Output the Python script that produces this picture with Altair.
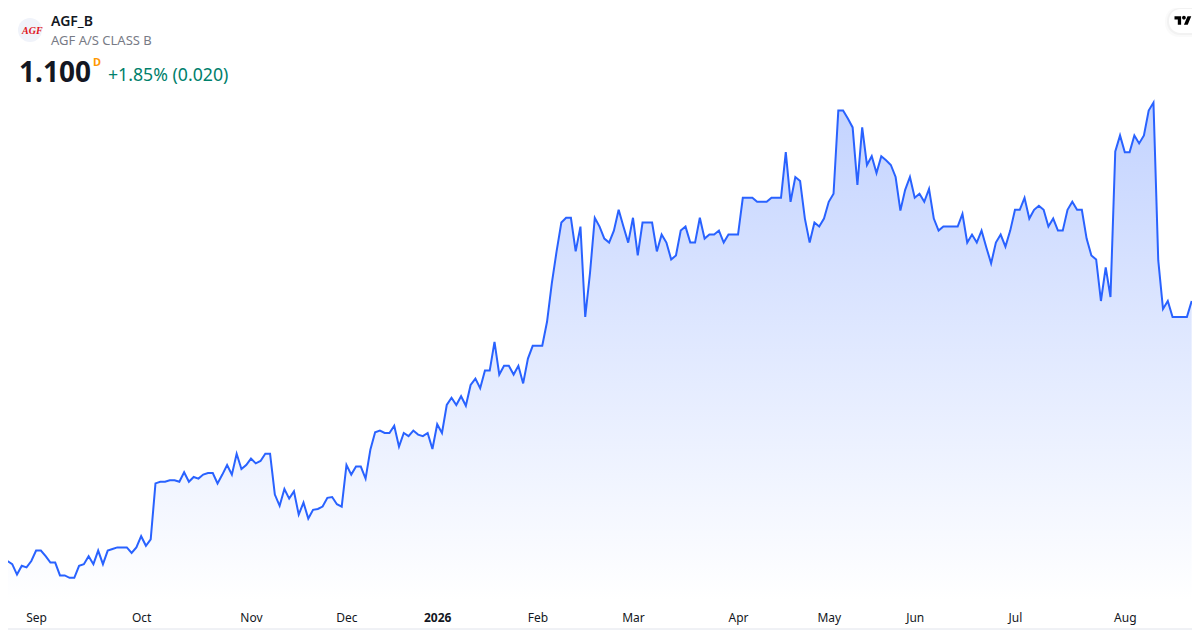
import altair as alt
import pandas as pd

# Daily closes, month by month
prices_a = [.764,.775,.771,.758,.769,.767,.775,.788,.788,.781,.773,.773,.757,.757,.754,.754,
            .769,.771,.781,.771,.788,.771,.788,.790,.792,.792,.792,.785,.792,.806,.794,.802,
            .872,.874,.874,.876,.876,.874,.886,.874,.880,.878,.883,.885,.885,.872,.883,.895,
            .883,.909,.890,.895,.903,.897,.900,.909,.909,.858,.844,.865,.853,.862,.833]
prices_b = [.848,.828,.839,.840,.843,.854,.855,.846,.843,.895,.883,.893,.893,.878,.914,.936,
            .938,.935,.935,.944,.918,.935,.931,.938,.933,.931,.935,.915,.946,.935,.970,.979,
            .970,.981,.969,.995,1.003,.991,1.013,1.013,1.049,1.008,1.019,1.019,1.008,1.019,
            .997,1.028,1.044,1.044,1.044,1.074]
prices_c = [1.122,1.162,1.198,1.204,1.204,1.162,1.193,1.080,1.135,1.204,1.193,1.178,1.173,
            1.188,1.214,1.193,1.173,1.204,1.157,1.198,1.198,1.198,1.162,1.183,1.173,1.152,
            1.157,1.188,1.193,1.173,1.173,1.204,1.178,1.183,1.183,1.188,1.173,1.183,1.183,
            1.183,1.229,1.229,1.229,1.224,1.224,1.224,1.229,1.229,1.229,1.286]
prices_d = [1.224,1.255,1.250,1.203,1.173,1.198,1.193,1.203,1.224,1.234,1.338,1.338,1.328,
            1.317,1.245,1.317,1.270,1.281,1.260,1.281,1.276,1.270,1.255,1.213,1.239,1.255,
            1.229,1.234,1.224,1.240,1.203,1.188,1.193,1.193,1.193,1.193,1.209,1.173,1.183,1.173]
prices_e = [1.188,1.167,1.147,1.173,1.183,1.168,1.188,1.214,1.214,1.229,1.203,1.214,1.219,
            1.214,1.193,1.203,1.188,1.188,1.214,1.224,1.214,1.214,1.178,1.157,1.152,1.100,
            1.142,1.105,1.287,1.307,1.286,1.286,1.307,1.297,1.307,1.338,1.348,1.151,1.090,
            1.100,1.080,1.080,1.080,1.080,1.100]
prices = prices_a + prices_b + prices_c + prices_d + prices_e

tick_positions = [7, 29, 52, 72, 91, 112, 132, 154, 173, 191, 212, 235]
tick_labels = ["Sep", "Oct", "Nov", "Dec", "2026", "Feb", "Mar", "Apr", "May", "Jun", "Jul", "Aug"]
price_floor = 0.72625

W, H, BOTTOM = 1184, 592, 30
df = pd.DataFrame({"bar": range(len(prices)), "close": prices})

x_enc = alt.X(
    "bar:Q",
    scale=alt.Scale(domain=[1.116, 249.07], nice=False, zero=False),
    axis=alt.Axis(
        values=tick_positions,
        labelExpr="%s[indexof(%s, datum.value)]" % (tick_labels, tick_positions),
        title=None, grid=False, domain=False, ticks=False,
        labelFont="Noto Sans", labelFontSize=12, labelColor="#131722",
        labelPadding=12, labelOverlap=False, labelFlush=False,
        labelFontWeight={"condition": {"test": "datum.value == 91", "value": "bold"}, "value": "normal"},
    ),
)
y_enc = alt.Y(
    "close:Q",
    scale=alt.Scale(domain=[price_floor, 1.46625], nice=False, zero=False),
    axis=None,
)

gradient = alt.Gradient(
    gradient="linear",
    stops=[
        alt.GradientStop(color="#C3D3FF", offset=0),
        alt.GradientStop(color="#FFFFFF", offset=1),
    ],
    x1=0, x2=0, y1=0, y2=1,
)
base = alt.Chart(df)
area = base.mark_area(clip=True, color=gradient, opacity=1, interpolate="linear").encode(
    x=x_enc, y=y_enc, y2=alt.datum(price_floor))
line = base.mark_line(clip=True, color="#2962FF", strokeWidth=2, interpolate="linear").encode(
    x=alt.X("bar:Q"), y=alt.Y("close:Q"))


def label(text, px, py, **kw):
    return alt.Chart(pd.DataFrame({"t": [text]})).mark_text(align="left", baseline="alphabetic", **kw).encode(
        x=alt.value(px - 8), y=alt.value(py - 8), text="t:N")


def badge(x0, y0, x1, y1, **kw):
    return alt.Chart(pd.DataFrame({"k": [0]})).mark_rect(**kw).encode(
        x=alt.value(x0 - 8), x2=alt.value(x1 - 8), y=alt.value(y0 - 8), y2=alt.value(y1 - 8))


def edge(**enc):
    return alt.Chart(pd.DataFrame({"k": [0]})).mark_rule(color="#E0E3EB", strokeWidth=1).encode(**enc)


logo_t = "M-0.222 0.5H-0.611V-0.111H-1V-0.5H-0.222Z"
logo_s = "M0.556 0.5H0.111L0.528 -0.5H0.972Z"
logo_d = "M0.333 -0.333A0.222 0.222 0 1 1 -0.111 -0.333A0.222 0.222 0 1 1 0.333 -0.333Z"
tv_logo = alt.Chart(pd.DataFrame({"k": [0]})).mark_point(
    shape=logo_t + logo_s + logo_d, filled=True, color="#000000", opacity=1, size=289
).encode(x=alt.value(1183 - 8), y=alt.value(20.5 - 8))

company = alt.Chart(pd.DataFrame({"k": [0]})).mark_point(
    shape="circle", filled=True, color="#F0F3FA", opacity=1, size=576
).encode(x=alt.value(30 - 8), y=alt.value(30 - 8))

layers = [
    area, line,
    edge(y=alt.value(H + BOTTOM - 1), x=alt.value(0), x2=alt.value(W)),
    badge(1165, 7, 1192, 37, fill="#000000", opacity=0.02, cornerRadiusTopLeft=15, cornerRadiusBottomLeft=15),
    badge(1167, 8, 1192, 35, fill="#000000", opacity=0.03, cornerRadiusTopLeft=13, cornerRadiusBottomLeft=13),
    badge(1169, 9, 1192, 33, fill="#FFFFFF", cornerRadiusTopLeft=12, cornerRadiusBottomLeft=12),
    tv_logo,
    company,
    label("AGF", 22, 33.5, font="Liberation Serif", fontSize=10, fontWeight="bold", fontStyle="italic", color="#E0141C"),
    label("AGF_B", 51, 26, font="Noto Sans", fontSize=14, fontWeight=600, color="#131722"),
    label("AGF A/S CLASS B", 51, 45, font="Noto Sans", fontSize=13, color="#787B86"),
    label("1.100", 19, 82, font="Noto Sans", fontSize=28, fontWeight="bold", color="#131722"),
    label("D", 93, 66, font="Noto Sans", fontSize=11, fontWeight="bold", color="#FF9800"),
    label("+1.85% (0.020)", 108, 81, font="Noto Sans", fontSize=17.7, color="#00806B"),
]

chart = alt.layer(*layers).properties(
    width=W, height=H, autosize="none", background="#FFFFFF",
    padding={"left": 0, "top": 0, "right": 0, "bottom": BOTTOM},
).configure_view(stroke=None)

chart.save("out.html", embed_options={"renderer": "svg", "actions": False})
